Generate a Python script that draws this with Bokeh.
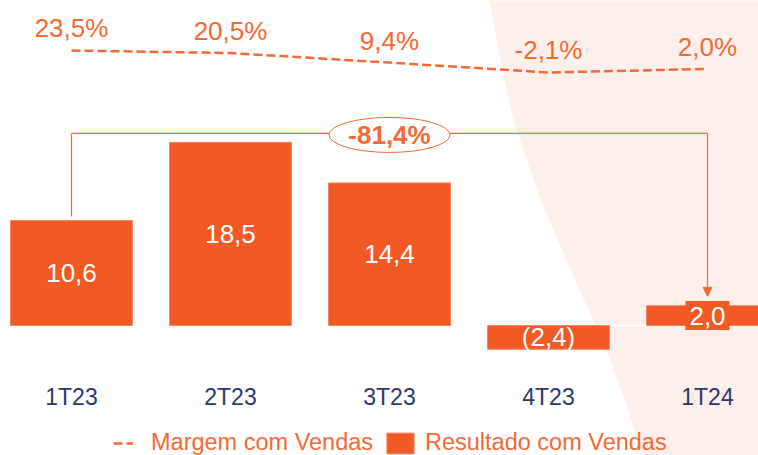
from bokeh.plotting import figure
from bokeh.models import Range1d, Legend, LegendItem, Arrow, NormalHead
from bokeh.core.properties import value
from bokeh.embed import file_html
from bokeh.resources import INLINE

# ---- data ----
categories = ["1T23", "2T23", "3T23", "4T23", "1T24"]
resultado = [10.6, 18.5, 14.4, -2.4, 2.0]
resultado_labels = ["10,6", "18,5", "14,4", "(2,4)", "2,0"]
margem = [23.5, 20.5, 9.4, -2.1, 2.0]
margem_labels = ["23,5%", "20,5%", "9,4%", "-2,1%", "2,0%"]
variacao_label = "-81,4%"

# ---- style ----
ORANGE = "#F15A24"
TEXT_ORANGE = "#F26A35"
NAVY = "#2B386B"
PINK = "#FDF0EC"
FONT = value("Liberation Sans")

xs = list(range(len(categories)))

X0, X1 = -0.4465, 4.3208
Y0, Y1 = -13.13, 32.83

p = figure(width=758, height=455, x_range=Range1d(X0, X1), y_range=Range1d(Y0, Y1),
           output_backend="svg", toolbar_location=None, min_border=0,
           outline_line_color=None, background_fill_color="white",
           border_fill_color="white")
p.extra_y_ranges = {"margem": Range1d(-447.97, 81.7)}
p.xaxis.visible = False
p.yaxis.visible = False
p.grid.visible = False

# decorative background shape on the right
bg_x = [2.616, 2.698, 2.780, 2.950, 3.170, 3.390, 3.503, 3.591, 3.650, X1 + 0.1, X1 + 0.1]
bg_y = [Y1 + 1, 26.77, 20.71, 12.63, 4.55, -3.54, -8.59, -13.13, Y0 - 2, Y0 - 2, Y1 + 1]
p.patch(bg_x, bg_y, fill_color=PINK, line_color=None)

# zero baseline (white)
p.line([X0, X1], [0, 0], line_color="white", line_width=1.5)

# bars
bars = p.vbar(x=xs, top=resultado, bottom=0, width=0.767, fill_color=ORANGE,
              line_color="#F5875F", line_width=1)

# bar value labels
p.text(x=xs[:-1], y=[v / 2 for v in resultado[:-1]], text=resultado_labels[:-1],
       text_align="center", text_baseline="middle", text_font_size="26px",
       text_color="white", text_font=FONT)
# last label sits on its own filled box
p.rect(x=xs[-1:], y=[v / 2 for v in resultado[-1:]], width=44, height=29,
       width_units="screen", height_units="screen", fill_color=ORANGE, line_color=None)
p.text(x=xs[-1:], y=[v / 2 for v in resultado[-1:]], text=resultado_labels[-1:],
       text_align="center", text_baseline="middle", text_font_size="26px",
       text_color="white", text_font=FONT)

# margin line
mline = p.line(xs, margem, y_range_name="margem", line_dash="9 4", line_width=2.5,
               line_color=TEXT_ORANGE)
p.text(x=xs, y=margem, text=margem_labels, y_range_name="margem", y_offset=-22,
       text_align="center", text_baseline="middle", text_font_size="26px",
       text_color=TEXT_ORANGE, text_font=FONT)

# variation bracket
bracket_level = 19.4
p.line([xs[0], xs[0]], [resultado[0] + 0.4, bracket_level], line_color=TEXT_ORANGE, line_width=1.2)
p.line([xs[0], xs[-1]], [bracket_level, bracket_level], line_color=TEXT_ORANGE, line_width=1.2)
p.add_layout(Arrow(x_start=xs[-1], y_start=bracket_level, x_end=xs[-1], y_end=resultado[-1] + 0.95,
                   line_color=TEXT_ORANGE, line_width=1.2,
                   end=NormalHead(size=9, fill_color=TEXT_ORANGE, line_color=TEXT_ORANGE)))
mid = (xs[0] + xs[-1]) / 2
p.ellipse(x=[mid], y=[bracket_level - 0.15], width=121, height=35,
          width_units="screen", height_units="screen",
          fill_color="white", line_color=TEXT_ORANGE, line_width=1)
p.text(x=[mid], y=[bracket_level - 0.15], text=[variacao_label], text_align="center",
       text_baseline="middle", text_font_size="26px", text_font_style="bold",
       text_color=TEXT_ORANGE, text_font=FONT)

# category labels
label_y = -7.27
p.text(x=xs, y=[label_y] * len(xs), text=categories, text_align="center",
       text_baseline="middle", text_font_size="23px", text_color=NAVY, text_font=FONT)

# legends
common = dict(orientation="horizontal", glyph_height=26, label_text_font_size="23.5px",
              label_text_color=TEXT_ORANGE, label_text_font="Liberation Sans",
              background_fill_alpha=0, border_line_color=None, padding=0, margin=0,
              spacing=0)
leg1 = Legend(items=[LegendItem(label="Margem com Vendas", renderers=[mline])],
              location=(113, -1), glyph_width=20, label_standoff=18, **common)
leg2 = Legend(items=[LegendItem(label="Resultado com Vendas", renderers=[bars])],
              location=(383, -1), glyph_width=34, label_standoff=8, **common)
p.add_layout(leg1)
p.add_layout(leg2)

open("out.html", "w").write(file_html(p, INLINE))
